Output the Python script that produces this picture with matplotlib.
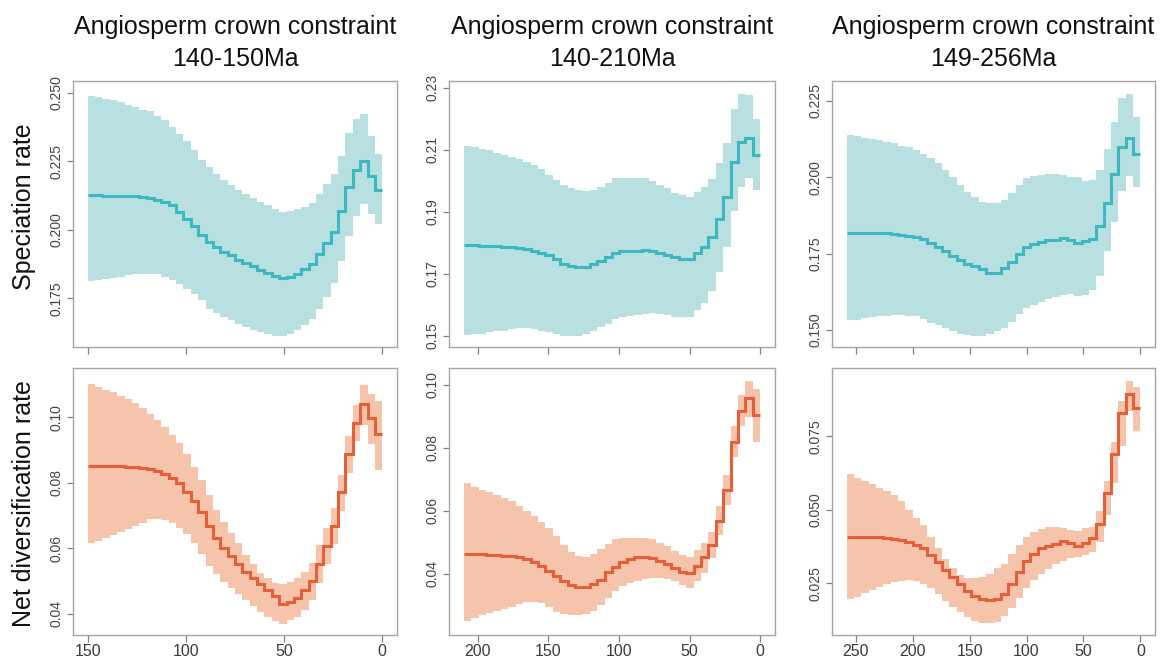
import numpy as np
import matplotlib.pyplot as plt

plt.rcParams['font.family'] = ['Liberation Sans', 'DejaVu Sans']

# Column titles, row labels and root ages (Ma) of the three dating schemes
titles = ['Angiosperm crown constraint\n140-150Ma',
          'Angiosperm crown constraint\n140-210Ma',
          'Angiosperm crown constraint\n149-256Ma']
row_labels = ['Speciation rate', 'Net diversification rate']
root_ages = [150, 210, 258]

# Rates in 40 equal time bins, oldest bin first: median, lower and upper 95% bounds

# 140-150Ma, speciation
spec_a_med = [0.2126, 0.2126, 0.2124, 0.2124, 0.2123, 0.2123, 0.2122, 0.2120, 0.2117, 0.2110,
              0.2101, 0.2092, 0.2065, 0.2039, 0.2014, 0.1983, 0.1955, 0.1937, 0.1921, 0.1907,
              0.1891, 0.1879, 0.1867, 0.1855, 0.1842, 0.1833, 0.1825, 0.1830, 0.1840, 0.1857,
              0.1874, 0.1913, 0.1952, 0.1994, 0.2068, 0.2156, 0.2220, 0.2250, 0.2195, 0.2146]
spec_a_lo = [0.1813, 0.1816, 0.1821, 0.1825, 0.1830, 0.1834, 0.1838, 0.1840, 0.1840, 0.1838,
             0.1830, 0.1816, 0.1801, 0.1785, 0.1767, 0.1743, 0.1712, 0.1697, 0.1682, 0.1670,
             0.1658, 0.1646, 0.1636, 0.1627, 0.1619, 0.1612, 0.1612, 0.1621, 0.1636, 0.1652,
             0.1676, 0.1712, 0.1757, 0.1806, 0.1886, 0.1976, 0.2050, 0.2093, 0.2059, 0.2022]
spec_a_hi = [0.2490, 0.2484, 0.2478, 0.2472, 0.2466, 0.2456, 0.2448, 0.2438, 0.2432, 0.2417,
             0.2399, 0.2377, 0.2350, 0.2326, 0.2292, 0.2256, 0.2229, 0.2205, 0.2183, 0.2162,
             0.2146, 0.2132, 0.2117, 0.2101, 0.2089, 0.2077, 0.2067, 0.2068, 0.2075, 0.2083,
             0.2098, 0.2132, 0.2168, 0.2205, 0.2271, 0.2353, 0.2405, 0.2421, 0.2341, 0.2278]

# 140-150Ma, net diversification
div_a_med = [0.0852, 0.0852, 0.0851, 0.0851, 0.0850, 0.0849, 0.0848, 0.0846, 0.0842, 0.0836,
             0.0826, 0.0814, 0.0798, 0.0773, 0.0744, 0.0710, 0.0669, 0.0632, 0.0602, 0.0576,
             0.0551, 0.0528, 0.0510, 0.0490, 0.0472, 0.0455, 0.0431, 0.0437, 0.0449, 0.0472,
             0.0500, 0.0551, 0.0608, 0.0669, 0.0770, 0.0887, 0.0982, 0.1040, 0.0997, 0.0948]
div_a_lo = [0.0615, 0.0622, 0.0632, 0.0640, 0.0650, 0.0659, 0.0669, 0.0676, 0.0689, 0.0689,
            0.0686, 0.0676, 0.0663, 0.0642, 0.0615, 0.0581, 0.0547, 0.0520, 0.0498, 0.0477,
            0.0459, 0.0442, 0.0424, 0.0406, 0.0391, 0.0377, 0.0370, 0.0380, 0.0391, 0.0411,
            0.0442, 0.0493, 0.0551, 0.0612, 0.0714, 0.0829, 0.0926, 0.0977, 0.0917, 0.0839]
div_a_hi = [0.1101, 0.1092, 0.1084, 0.1076, 0.1066, 0.1055, 0.1043, 0.1028, 0.1009, 0.0992,
            0.0971, 0.0946, 0.0921, 0.0887, 0.0849, 0.0808, 0.0763, 0.0717, 0.0679, 0.0645,
            0.0615, 0.0579, 0.0551, 0.0523, 0.0508, 0.0493, 0.0490, 0.0496, 0.0510, 0.0526,
            0.0554, 0.0610, 0.0663, 0.0724, 0.0822, 0.0941, 0.1038, 0.1099, 0.1070, 0.1048]

# 140-210Ma, speciation
spec_b_med = [0.1792, 0.1792, 0.1790, 0.1790, 0.1789, 0.1787, 0.1785, 0.1782, 0.1779, 0.1773,
              0.1768, 0.1761, 0.1747, 0.1732, 0.1725, 0.1721, 0.1721, 0.1732, 0.1740, 0.1755,
              0.1766, 0.1773, 0.1774, 0.1774, 0.1777, 0.1773, 0.1768, 0.1761, 0.1753, 0.1747,
              0.1747, 0.1768, 0.1785, 0.1819, 0.1875, 0.1948, 0.2060, 0.2125, 0.2137, 0.2082]
spec_b_lo = [0.1503, 0.1506, 0.1507, 0.1511, 0.1514, 0.1517, 0.1522, 0.1524, 0.1524, 0.1522,
             0.1517, 0.1511, 0.1507, 0.1501, 0.1500, 0.1501, 0.1507, 0.1517, 0.1527, 0.1539,
             0.1554, 0.1560, 0.1565, 0.1568, 0.1571, 0.1573, 0.1571, 0.1568, 0.1560, 0.1560,
             0.1562, 0.1584, 0.1607, 0.1646, 0.1707, 0.1785, 0.1903, 0.1978, 0.2010, 0.1971]
spec_b_hi = [0.2111, 0.2109, 0.2103, 0.2098, 0.2089, 0.2084, 0.2076, 0.2071, 0.2060, 0.2050,
             0.2039, 0.2018, 0.2001, 0.1985, 0.1975, 0.1969, 0.1966, 0.1969, 0.1980, 0.1993,
             0.2007, 0.2010, 0.2009, 0.2007, 0.2009, 0.1999, 0.1985, 0.1975, 0.1961, 0.1953,
             0.1948, 0.1964, 0.1978, 0.2004, 0.2057, 0.2121, 0.2232, 0.2280, 0.2277, 0.2200]

# 140-210Ma, net diversification
div_b_med = [0.0462, 0.0462, 0.0462, 0.0461, 0.0460, 0.0458, 0.0456, 0.0453, 0.0448, 0.0439,
             0.0426, 0.0410, 0.0392, 0.0376, 0.0365, 0.0358, 0.0358, 0.0367, 0.0381, 0.0405,
             0.0423, 0.0439, 0.0448, 0.0452, 0.0454, 0.0450, 0.0441, 0.0431, 0.0418, 0.0407,
             0.0402, 0.0426, 0.0452, 0.0492, 0.0569, 0.0667, 0.0818, 0.0917, 0.0958, 0.0905]
div_b_lo = [0.0251, 0.0259, 0.0268, 0.0275, 0.0283, 0.0289, 0.0296, 0.0304, 0.0310, 0.0310,
            0.0307, 0.0296, 0.0280, 0.0272, 0.0268, 0.0268, 0.0272, 0.0283, 0.0302, 0.0323,
            0.0344, 0.0360, 0.0370, 0.0378, 0.0384, 0.0388, 0.0388, 0.0384, 0.0376, 0.0365,
            0.0354, 0.0378, 0.0402, 0.0450, 0.0524, 0.0619, 0.0772, 0.0868, 0.0899, 0.0818]
div_b_hi = [0.0688, 0.0677, 0.0667, 0.0661, 0.0651, 0.0642, 0.0630, 0.0614, 0.0600, 0.0585,
            0.0566, 0.0545, 0.0519, 0.0492, 0.0469, 0.0457, 0.0455, 0.0463, 0.0479, 0.0496,
            0.0510, 0.0513, 0.0514, 0.0515, 0.0514, 0.0510, 0.0497, 0.0487, 0.0471, 0.0460,
            0.0455, 0.0476, 0.0497, 0.0534, 0.0614, 0.0712, 0.0868, 0.0966, 0.1013, 0.0987]

# 149-256Ma, speciation
spec_c_med = [0.1817, 0.1817, 0.1817, 0.1817, 0.1817, 0.1816, 0.1814, 0.1811, 0.1808, 0.1803,
              0.1797, 0.1786, 0.1773, 0.1760, 0.1742, 0.1729, 0.1716, 0.1708, 0.1699, 0.1688,
              0.1688, 0.1702, 0.1724, 0.1749, 0.1771, 0.1782, 0.1789, 0.1795, 0.1795, 0.1800,
              0.1795, 0.1786, 0.1792, 0.1797, 0.1840, 0.1916, 0.2009, 0.2099, 0.2129, 0.2077]
spec_c_lo = [0.1532, 0.1534, 0.1539, 0.1542, 0.1545, 0.1547, 0.1549, 0.1549, 0.1547, 0.1545,
             0.1536, 0.1525, 0.1517, 0.1507, 0.1496, 0.1488, 0.1485, 0.1482, 0.1482, 0.1488,
             0.1496, 0.1507, 0.1528, 0.1553, 0.1572, 0.1583, 0.1593, 0.1601, 0.1608, 0.1615,
             0.1617, 0.1612, 0.1615, 0.1632, 0.1677, 0.1757, 0.1854, 0.1955, 0.2003, 0.1968]
spec_c_hi = [0.2137, 0.2134, 0.2129, 0.2125, 0.2121, 0.2115, 0.2110, 0.2103, 0.2097, 0.2088,
             0.2077, 0.2061, 0.2045, 0.2023, 0.2001, 0.1974, 0.1952, 0.1936, 0.1920, 0.1914,
             0.1916, 0.1925, 0.1949, 0.1974, 0.1996, 0.2003, 0.2007, 0.2010, 0.2010, 0.2007,
             0.2001, 0.1999, 0.1988, 0.1992, 0.2023, 0.2093, 0.2180, 0.2260, 0.2273, 0.2195]

# 149-256Ma, net diversification
div_c_med = [0.0407, 0.0407, 0.0407, 0.0407, 0.0406, 0.0403, 0.0400, 0.0397, 0.0390, 0.0381,
             0.0369, 0.0347, 0.0322, 0.0295, 0.0273, 0.0247, 0.0224, 0.0208, 0.0197, 0.0193,
             0.0197, 0.0212, 0.0247, 0.0290, 0.0326, 0.0349, 0.0369, 0.0378, 0.0383, 0.0394,
             0.0386, 0.0378, 0.0386, 0.0403, 0.0451, 0.0559, 0.0690, 0.0830, 0.0894, 0.0847]
div_c_lo = [0.0197, 0.0205, 0.0216, 0.0227, 0.0239, 0.0247, 0.0253, 0.0258, 0.0261, 0.0258,
            0.0247, 0.0233, 0.0212, 0.0190, 0.0170, 0.0153, 0.0136, 0.0122, 0.0114, 0.0114,
            0.0119, 0.0140, 0.0167, 0.0201, 0.0233, 0.0261, 0.0281, 0.0299, 0.0315, 0.0326,
            0.0335, 0.0341, 0.0347, 0.0358, 0.0392, 0.0483, 0.0591, 0.0719, 0.0838, 0.0767]
div_c_hi = [0.0622, 0.0610, 0.0599, 0.0588, 0.0576, 0.0565, 0.0549, 0.0531, 0.0500, 0.0474,
            0.0447, 0.0409, 0.0369, 0.0333, 0.0301, 0.0278, 0.0269, 0.0269, 0.0273, 0.0281,
            0.0301, 0.0315, 0.0349, 0.0381, 0.0409, 0.0426, 0.0435, 0.0440, 0.0443, 0.0438,
            0.0431, 0.0428, 0.0438, 0.0443, 0.0497, 0.0597, 0.0731, 0.0869, 0.0940, 0.0918]

# axis ticks and ranges per column
x_ticks = [[150, 100, 50, 0],
           [200, 150, 100, 50, 0],
           [250, 200, 150, 100, 50, 0]]
spec_yticks = [[0.175, 0.200, 0.225, 0.250],
               [0.15, 0.17, 0.19, 0.21, 0.23],
               [0.150, 0.175, 0.200, 0.225]]
div_yticks = [[0.04, 0.06, 0.08, 0.10],
              [0.04, 0.06, 0.08, 0.10],
              [0.025, 0.050, 0.075]]
spec_ylims = [(0.1573, 0.2543), (0.1464, 0.2321), (0.1445, 0.2314)]
div_ylims = [(0.0335, 0.1150), (0.0206, 0.1053), (0.0074, 0.0983)]
spec_fmt = ['%.3f', '%.2f', '%.3f']
div_fmt = ['%.2f', '%.2f', '%.3f']

spec_rows = [(spec_a_med, spec_a_lo, spec_a_hi),
             (spec_b_med, spec_b_lo, spec_b_hi),
             (spec_c_med, spec_c_lo, spec_c_hi)]
div_rows = [(div_a_med, div_a_lo, div_a_hi),
            (div_b_med, div_b_lo, div_b_hi),
            (div_c_med, div_c_lo, div_c_hi)]

TEAL_BAND, TEAL_LINE = '#b8e0e1', '#3db8c1'
ORANGE_BAND, ORANGE_LINE = '#f5c4aa', '#e4603b'
NARROW = ['Liberation Sans Narrow', 'Liberation Sans', 'DejaVu Sans']


def draw_panel(ax, root_age, series, band_col, line_col, ylim, yticks, yfmt, xticks, xlabels):
    med, lo, hi = series
    edges = np.linspace(root_age, 0, len(med) + 1)

    # credible interval as a stepped band, median as a stepped line
    ax.stairs(hi, edges, baseline=lo, fill=True, color=band_col, lw=0)
    ax.stairs(med, edges, baseline=None, color=line_col, lw=2.2)

    ax.set_xlim(1.05 * root_age, -0.05 * root_age)
    ax.set_ylim(*ylim)

    for side in ax.spines.values():
        side.set_color('#a6a6a6')
        side.set_linewidth(1.0)
    ax.tick_params(axis='x', color='#808080', length=5, width=0.9, pad=1.5)
    ax.tick_params(axis='y', color='#808080', length=4.5, width=0.9, pad=2)

    ax.set_xticks(xticks)
    ax.set_yticks(yticks)
    ax.set_yticklabels([yfmt % v for v in yticks], rotation=90, va='center',
                       fontsize=10, color='#444444', family=NARROW)
    if xlabels:
        ax.set_xticklabels([str(v) for v in xticks], fontsize=11.5, color='#3a3a3a')
    else:
        ax.tick_params(axis='x', labelbottom=False)


fig = plt.figure(figsize=(11.64, 6.59), dpi=100)
W, H = 1164.0, 659.0

# panel boxes in pixels: (left, right) per column, (top, bottom) per row
cols = [(73, 397), (449, 775), (832, 1155)]
rows = [(81, 347), (368, 635)]

for j in range(3):
    l, r = cols[j]
    for i in range(2):
        t, b = rows[i]
        ax = fig.add_axes([l / W, 1 - b / H, (r - l) / W, (b - t) / H])
        if i == 0:
            draw_panel(ax, root_ages[j], spec_rows[j], TEAL_BAND, TEAL_LINE,
                       spec_ylims[j], spec_yticks[j], spec_fmt[j], x_ticks[j], False)
            ax.set_title(titles[j], fontsize=18, pad=10.5, linespacing=1.45, color='#111111')
        else:
            draw_panel(ax, root_ages[j], div_rows[j], ORANGE_BAND, ORANGE_LINE,
                       div_ylims[j], div_yticks[j], div_fmt[j], x_ticks[j], True)

fig.text(24 / W, 1 - 207 / H, row_labels[0], rotation=90, ha='center', va='center',
         fontsize=18, color='#111111')
fig.text(24 / W, 1 - 504 / H, row_labels[1], rotation=90, ha='center', va='center',
         fontsize=18, color='#111111')

plt.savefig('out.png', dpi=100)
